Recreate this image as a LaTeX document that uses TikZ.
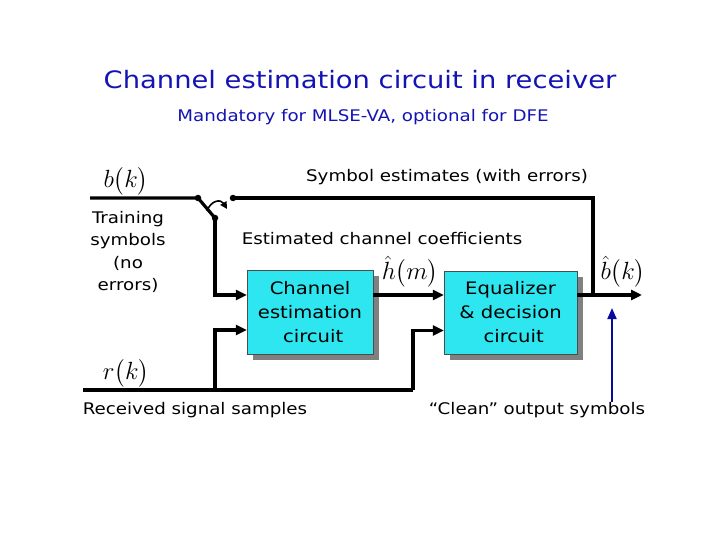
\documentclass[tikz,border=0pt]{standalone}
\usepackage{amsmath,amssymb}
\usepackage{fontspec}
\setmainfont[FakeStretch=1.14]{DejaVu Sans}
\usepackage{tikz}
\usetikzlibrary{calc,arrows.meta,shadows,positioning}
\definecolor{ttlblue}{RGB}{20,20,180}
\definecolor{boxcyan}{RGB}{45,230,240}
\definecolor{navyarr}{RGB}{10,10,160}
\tikzset{>={Triangle[length=11pt,width=10pt]}}
\tikzset{
blk/.style={draw=black!70, thin, fill=boxcyan, align=center, inner sep=0pt,
  font=\fontsize{17.2}{24}\selectfont,
  drop shadow={shadow xshift=6pt, shadow yshift=-6pt, fill=gray, opacity=1}},
lbl/.style={font=\fontsize{16}{22.3}\selectfont, inner sep=0pt},
mth/.style={font=\fontsize{23}{27}\selectfont, inner sep=0pt},
sig/.style={line width=3.2pt},
swdot/.style={circle, fill=black, inner sep=0pt, minimum size=6.5pt}
}
\begin{document}
\begin{tikzpicture}[x=1pt,y=-1pt]
\useasboundingbox (0,0) rectangle (720,540);
% titles
\node[font=\fontsize{24}{28}\selectfont, text=ttlblue] (title) at (360,80) {Channel estimation circuit in receiver};
\node[font=\fontsize{16}{20}\selectfont, text=ttlblue] (subtitle) at (363,117) {Mandatory for MLSE-VA, optional for DFE};
% blocks
\node[blk, minimum width=126pt, minimum height=84pt] (chbox) at (310,312) {Channel\\estimation\\\ circuit};
\node[blk, minimum width=133pt, minimum height=83pt] (eqbox) at (510.5,312.5) {Equalizer\\\& decision\\\ circuit};
% switch and ends
\coordinate (bstart) at (90,198);
\coordinate (rstart) at (83,390);
\node[swdot] (sw1) at (198,198) {};
\node[swdot] (sw2) at (215,218) {};
\node[swdot] (sw3) at (233,198) {};
\coordinate (fbk) at (593,198);
\coordinate (junc) at (593,295);
\coordinate (out) at (642,295);
\coordinate (rsplit) at (215,390);
\coordinate (rend) at (413,390);
\coordinate (cleantip) at (612,308);
% labels
\node[mth] (bk) at (126,181) {$b\bigl(k\bigr)$};
\node[mth] (rk) at (126,373) {$r\bigl(k\bigr)$};
\node[mth] (hm) at (410,272) {$\hat{h}\bigl(m\bigr)$};
\node[mth] (bhat) at (623,272) {$\hat{b}\bigl(k\bigr)$};
\node[lbl] (symest) at (447,177) {Symbol estimates (with errors)};
\node[lbl] (estcoef) at (382,239) {Estimated channel coefficients};
\node[lbl, align=center] (training) at (128,252) {Training\\symbols\\(no\\errors)};
\node[lbl] (received) at (195,410) {Received signal samples};
\node[lbl] (clean) at (537,410) {``Clean'' output symbols};
% connections
\draw[sig] (bstart) -- (sw1.center) -- (sw2.center);
\draw[sig, ->] (sw2.center) |- ([yshift=17pt]chbox.west);
\draw[sig] (sw3.center) -- (fbk) -- (junc);
\draw[sig] (rstart) -- (rend);
\draw[sig, ->] (rsplit) |- ([yshift=-18pt]chbox.west);
\draw[sig, ->] (rend) |- ([yshift=-18pt]eqbox.west);
\draw[sig, ->] ([yshift=17pt]chbox.east) -- ([yshift=17pt]chbox.east -| eqbox.west);
\draw[sig, ->] ([yshift=17pt]chbox.east -| eqbox.east) -- (out);
\draw[line width=1.6pt, -{Triangle[length=7pt,width=7pt]}] (207,211) .. controls (211,200) and (221,199) .. (227,209);
\draw[line width=2pt, navyarr, -{Triangle[length=11pt,width=9pt]}] (clean.north -| cleantip) -- (cleantip);
\end{tikzpicture}
\end{document}
